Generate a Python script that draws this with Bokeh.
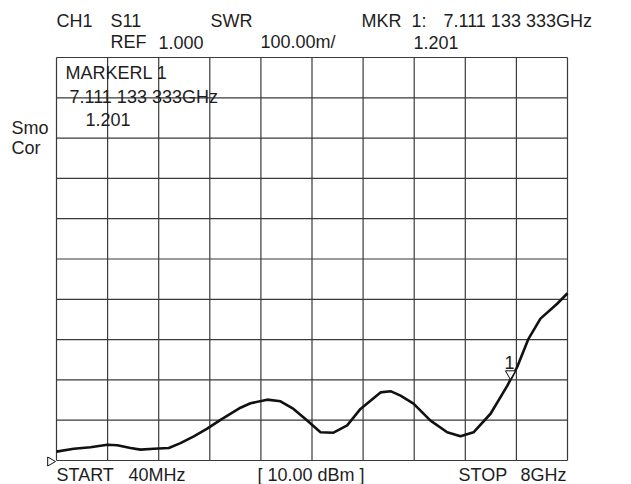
import numpy as np
from bokeh.plotting import figure
from bokeh.models import Range1d, ColumnDataSource
from bokeh.core.properties import value
from bokeh.embed import file_html
from bokeh.resources import INLINE

# ---------------- data ----------------
freq_ghz = [0.04, 0.309, 0.57, 0.83, 0.986, 1.193, 1.348, 1.556, 1.789, 1.971,
            2.179, 2.387, 2.595, 2.906, 3.062, 3.322, 3.529, 3.732, 3.945, 4.152,
            4.355, 4.568, 4.775, 5.087, 5.243, 5.399, 5.601, 5.866, 6.126, 6.333,
            6.536, 6.801, 7.061, 7.216, 7.392, 7.579, 7.839, 8.0]
swr = [1.022, 1.029, 1.033, 1.039, 1.038, 1.031, 1.027, 1.029, 1.031, 1.043,
       1.060, 1.079, 1.101, 1.131, 1.142, 1.151, 1.147, 1.128, 1.099, 1.070,
       1.069, 1.087, 1.128, 1.169, 1.172, 1.161, 1.141, 1.099, 1.070, 1.060,
       1.070, 1.116, 1.185, 1.232, 1.302, 1.352, 1.389, 1.415]

start_ghz, stop_ghz = 0.04, 8.0
ref_swr = 1.0
swr_per_div = 0.1
n_div = 10
marker_freq_ghz = 7.111
marker_swr = 1.201
marker_id = "1"

header_row1 = ["CH1", "S11", "SWR", "MKR", "1:", "7.111 133 333GHz"]
header_row2 = ["REF", "1.000", "100.00m/", "1.201"]
marker_box = ["MARKERL 1", "7.111 133 333GHz", "1.201"]
side_texts = ["Smo", "Cor"]
footer_texts = ["START", "40MHz", "[ 10.00 dBm ]", "STOP", "8GHz"]

# ---------------- layout (page pixels) ----------------
W, H = 631, 484
GL, GR, GT, GB = 56, 567, 57, 460
TXT_SHIFT = -7  # empirical correction of the rendered text baseline
kx = (stop_ghz - start_ghz) / (GR - GL)
ky = (n_div * swr_per_div) / (GB - GT)


def dx(px):
    return start_ghz + (px - GL) * kx


def dy(py):
    return ref_swr + (GB - py) * ky


p = figure(width=W, height=H,
           x_range=Range1d(dx(0), dx(W)),
           y_range=Range1d(dy(H), dy(0)),
           output_backend="svg", toolbar_location=None,
           x_axis_type=None, y_axis_type=None, min_border=0,
           outline_line_color=None, background_fill_color="white",
           border_fill_color="white")

grid_col = "#3a3a3a"
div_x = [start_ghz + i * (stop_ghz - start_ghz) / n_div for i in range(n_div + 1)]
div_y = [ref_swr + i * swr_per_div for i in range(n_div + 1)]
top_swr = ref_swr + n_div * swr_per_div
p.segment(x0=div_x, y0=[ref_swr] * len(div_x), x1=div_x, y1=[top_swr] * len(div_x),
          line_color=grid_col, line_width=1.2)
p.segment(x0=[start_ghz] * len(div_y), y0=div_y, x1=[stop_ghz] * len(div_y), y1=div_y,
          line_color=grid_col, line_width=1.2)

# trace
p.line(freq_ghz, swr, line_color="#111111", line_width=2.6, line_join="round")

FONT = value("Liberation Sans")
FS = "18px"
TC = "#1e1e1e"


def texts(strings, xs_px, ys_px, align="left"):
    src = ColumnDataSource(dict(x=[dx(v) for v in xs_px],
                                y=[dy(v + TXT_SHIFT) for v in ys_px],
                                t=strings))
    p.text(x="x", y="y", text="t", source=src, text_font=FONT, text_font_size=FS,
           text_color=TC, text_align=align, text_baseline="alphabetic")


texts(header_row1, [56, 110, 210, 361, 411, 443], [27] * 6)
texts(header_row2, [110, 158, 260, 413], [48.5] * 4)
texts(marker_box, [65, 69, 85], [79.5, 103, 126])
texts(side_texts, [11, 11], [134, 154])
texts(footer_texts, [56, 128, 257, 458, 520], [481] * 5)

# marker 1
p.scatter(x=[marker_freq_ghz], y=[marker_swr + 5.8 * ky], marker="inverted_triangle",
          size=10, fill_color="white", line_color="#111111", line_width=1)
src_m = ColumnDataSource(dict(x=[marker_freq_ghz - kx],
                              y=[marker_swr + (9.5 - TXT_SHIFT) * ky], t=[marker_id]))
p.text(x="x", y="y", text="t", source=src_m, text_font=FONT, text_font_size=FS,
       text_color=TC, text_align="center", text_baseline="alphabetic")

# reference position marker
p.scatter(x=[start_ghz - 6.2 * kx], y=[ref_swr - 1 * ky], marker="triangle", angle=-np.pi / 2,
          size=9, fill_color="white", line_color="#111111", line_width=1)

open("out.html", "w").write(file_html(p, INLINE))
